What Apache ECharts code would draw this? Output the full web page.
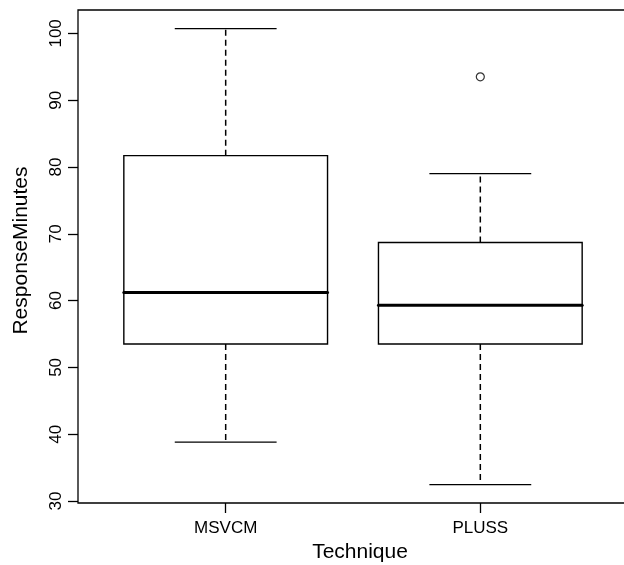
<!DOCTYPE html>
<html>
<head>
<meta charset="utf-8">
<script src="https://cdn.jsdelivr.net/npm/echarts@6/dist/echarts.min.js"></script>
<style>
html,body{margin:0;padding:0;background:#fff;}
#chart{width:624px;height:565px;}
</style>
</head>
<body>
<div id="chart"></div>
<script>
// ---- data ----
const categories = ['MSVCM', 'PLUSS'];
const lowerWhisker = [38.8, 32.45];
const q1Values = [53.5, 53.5];
const medianValues = [61.2, 59.3];
const q3Values = [81.7, 68.7];
const upperWhisker = [100.7, 79.0];
const outlierCategory = ['PLUSS'];
const outlierValue = [93.5];
const yTicks = [30, 40, 50, 60, 70, 80, 90, 100];

// ---- build series data ----
const boxData = categories.map((c, i) => [i + 1, lowerWhisker[i], q1Values[i], medianValues[i], q3Values[i], upperWhisker[i]]);
const outlierData = outlierCategory.map((c, i) => [categories.indexOf(c) + 1, outlierValue[i]]);
const catPositions = categories.map((c, i) => i + 1);

const FONT = '"Liberation Sans", Arial, Helvetica, sans-serif';

function renderBox(params, api) {
  const x = api.value(0);
  const low = api.coord([x, api.value(1)]);
  const q1 = api.coord([x, api.value(2)]);
  const med = api.coord([x, api.value(3)]);
  const q3 = api.coord([x, api.value(4)]);
  const high = api.coord([x, api.value(5)]);
  const w = api.size([0.8, 0])[0];
  const cx = low[0];
  const lineStyle = { stroke: '#000', lineWidth: 1.3, fill: null };
  const dashStyle = { stroke: '#000', lineWidth: 1.5, lineDash: [6, 4], fill: null };
  return {
    type: 'group',
    children: [
      { type: 'line', shape: { x1: cx, y1: q1[1], x2: cx, y2: low[1] }, style: dashStyle },
      { type: 'line', shape: { x1: cx, y1: q3[1], x2: cx, y2: high[1] }, style: dashStyle },
      { type: 'line', shape: { x1: cx - w / 4, y1: low[1], x2: cx + w / 4, y2: low[1] }, style: lineStyle },
      { type: 'line', shape: { x1: cx - w / 4, y1: high[1], x2: cx + w / 4, y2: high[1] }, style: lineStyle },
      { type: 'rect', shape: { x: cx - w / 2, y: q3[1], width: w, height: q1[1] - q3[1] },
        style: { stroke: '#000', lineWidth: 1.4, fill: '#fff' } },
      { type: 'line', shape: { x1: cx - w / 2, y1: med[1], x2: cx + w / 2, y2: med[1] },
        style: { stroke: '#000', lineWidth: 3, lineCap: 'round' } }
    ]
  };
}

const chart = echarts.init(document.getElementById('chart'), null, { renderer: 'canvas' });
chart.setOption({
  animation: false,
  backgroundColor: '#fff',
  textStyle: { fontFamily: FONT, color: '#000' },
  grid: {
    left: 78, width: 550, top: 10, bottom: 62,
    containLabel: false,
    outerBoundsMode: 'none',
    show: true, borderColor: '#000', borderWidth: 1.3, backgroundColor: 'transparent'
  },
  xAxis: {
    type: 'value',
    min: 0.42, max: 2.58,
    name: 'Technique',
    nameLocation: 'middle',
    nameGap: 39,
    nameTextStyle: { fontSize: 21, color: '#000', fontFamily: FONT, padding: [0, 0, 0, 14] },
    axisLine: { show: false },
    splitLine: { show: false },
    axisTick: { show: true, length: 10, customValues: catPositions, lineStyle: { color: '#000', width: 1.3 } },
    axisLabel: {
      customValues: catPositions, margin: 17, fontSize: 17, color: '#000', fontFamily: FONT,
      formatter: v => categories[Math.round(v) - 1]
    }
  },
  yAxis: {
    type: 'value',
    min: 29.7, max: 103.5,
    name: 'ResponseMinutes',
    nameLocation: 'middle',
    nameGap: 46,
    nameTextStyle: { fontSize: 21, color: '#000', fontFamily: FONT, padding: [0, 0, 0, 12] },
    axisLine: { show: false },
    splitLine: { show: false },
    axisTick: { show: true, length: 10, customValues: yTicks, lineStyle: { color: '#000', width: 1.3 } },
    axisLabel: {
      customValues: yTicks, rotate: 90, margin: 13, fontSize: 17, color: '#000', fontFamily: FONT
    }
  },
  series: [
    {
      type: 'custom',
      renderItem: renderBox,
      data: boxData,
      encode: { x: 0, y: [1, 2, 3, 4, 5] },
      z: 2
    },
    {
      type: 'scatter',
      data: outlierData,
      symbol: 'circle',
      symbolSize: 8,
      itemStyle: { color: '#fff', borderColor: '#000', borderWidth: 1.2 },
      z: 3
    }
  ]
});
</script>
</body>
</html>
